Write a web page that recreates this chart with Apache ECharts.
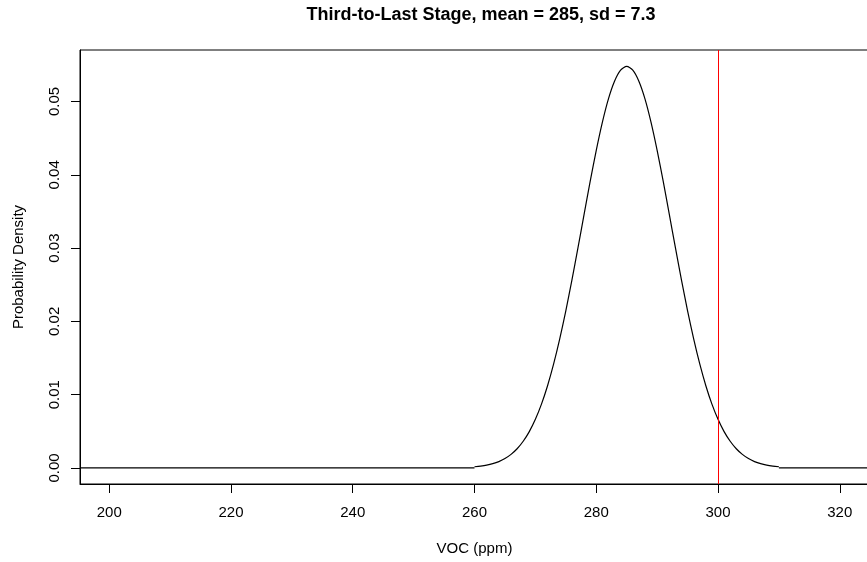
<!DOCTYPE html>
<html><head><meta charset="utf-8">
<script src="https://cdn.jsdelivr.net/npm/echarts@6/dist/echarts.min.js"></script>
<style>html,body{margin:0;padding:0;background:#fff}#c{width:867px;height:562px}</style>
</head><body><div id="c"></div>
<script>
const titleText = "Third-to-Last Stage, mean = 285, sd = 7.3";
const xName = "VOC (ppm)";
const yName = "Probability Density";
const xTicks = [200, 220, 240, 260, 280, 300, 320];
const yTicks = [0, 0.01, 0.02, 0.03, 0.04, 0.05];
const xRange = [195.2, 324.8];
const yRange = [-0.00219, 0.05703];
const limitX = 300;
// density curve
const curveX = [260,261,262,263,264,265,266,267,268,269,270,271,272,273,274,275,276,277,278,279,280,281,282,283,284,285,
                286,287,288,289,290,291,292,293,294,295,296,297,298,299,300,301,302,303,304,305,306,307,308,309,310];
const curveY = [0.00016,0.00025,0.00038,0.00058,0.00087,0.00128,0.00185,0.00262,0.00364,0.00496,0.00664,0.00871,0.01122,
                0.01419,0.01761,0.02144,0.02563,0.03006,0.03460,0.03909,0.04334,0.04716,0.05037,0.05278,0.05429,0.05480,
                0.05429,0.05278,0.05037,0.04716,0.04334,0.03909,0.03460,0.03006,0.02563,0.02144,0.01761,0.01419,0.01122,
                0.00871,0.00664,0.00496,0.00364,0.00262,0.00185,0.00128,0.00087,0.00058,0.00038,0.00025,0.00016];
// flat zero segments either side of the curve
const leftBaseX = [195.2, 260];
const rightBaseX = [310, 324.8];

const FONT = "'Liberation Sans', Arial, sans-serif";
const curveData = curveX.map((x, i) => [x, curveY[i]]);
const leftData = leftBaseX.map(x => [x, 0]);
const rightData = rightBaseX.map(x => [x, 0]);
const lineStyle = {color: '#000', width: 1.2};

const chart = echarts.init(document.getElementById('c'), null, {renderer: 'canvas'});
chart.setOption({
  animation: false,
  backgroundColor: '#fff',
  title: {
    text: titleText, left: 476, top: 1, textAlign: 'center',
    textStyle: {fontFamily: FONT, fontSize: 18, fontWeight: 'bold', color: '#000'}
  },
  grid: {left: 80, top: 50, right: -2, bottom: 78, show: true, borderColor: '#000', borderWidth: 1,
         containLabel: false, outerBoundsMode: 'none'},
  xAxis: {
    type: 'value', min: xRange[0], max: xRange[1],
    axisLine: {show: true, onZero: false, lineStyle: {color: '#000', width: 1}},
    axisTick: {show: true, inside: false, length: 9, customValues: xTicks, lineStyle: {color: '#000'}},
    axisLabel: {show: true, customValues: xTicks, margin: 21, fontSize: 15, fontFamily: FONT, color: '#000'},
    splitLine: {show: false},
    name: xName, nameLocation: 'middle', nameGap: 57,
    nameTextStyle: {fontSize: 15, fontFamily: FONT, color: '#000'}
  },
  yAxis: {
    type: 'value', min: yRange[0], max: yRange[1],
    axisLine: {show: true, onZero: false, lineStyle: {color: '#000', width: 1}},
    axisTick: {show: true, inside: false, length: 9, customValues: yTicks, lineStyle: {color: '#000'}},
    axisLabel: {show: true, customValues: yTicks, rotate: 90, margin: 18, fontSize: 15, fontFamily: FONT, color: '#000',
                formatter: v => v.toFixed(2)},
    splitLine: {show: false},
    name: yName, nameLocation: 'middle', nameGap: 54, nameRotate: 90,
    nameTextStyle: {fontSize: 15, fontFamily: FONT, color: '#000'}
  },
  series: [
    {type: 'line', data: leftData, showSymbol: false, symbol: 'none', lineStyle: lineStyle},
    {type: 'line', data: curveData, showSymbol: false, symbol: 'none', smooth: 0.25,
     lineStyle: lineStyle,
     markLine: {
       silent: true, symbol: ['none', 'none'], label: {show: false},
       lineStyle: {color: '#ff0000', type: 'solid', width: 1},
       data: [{xAxis: limitX}]
     }},
    {type: 'line', data: rightData, showSymbol: false, symbol: 'none', lineStyle: lineStyle}
  ]
});
</script></body></html>
